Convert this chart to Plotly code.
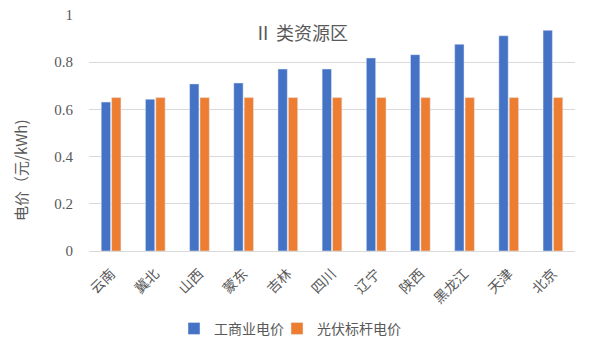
import plotly.graph_objects as go

provinces = ["云南", "冀北", "山西", "蒙东", "吉林", "四川", "辽宁", "陕西", "黑龙江", "天津", "北京"]
commercial_price = [0.631, 0.643, 0.708, 0.712, 0.771, 0.771, 0.818, 0.832, 0.876, 0.912, 0.935]
pv_benchmark_price = [0.65] * 11
y_ticks = [0, 0.2, 0.4, 0.6, 0.8, 1]
y_tick_text = ["0", "0.2", "0.4", "0.6", "0.8", "1"]

grey = "#595959"
fig = go.Figure()
fig.add_trace(go.Bar(x=provinces, y=commercial_price, name="工商业电价", marker_color="#4472C4",
                     legend="legend"))
fig.add_trace(go.Bar(x=provinces, y=pv_benchmark_price, name="光伏标杆电价", marker_color="#ED7D31",
                     legend="legend2"))

legend_common = dict(orientation="h", xanchor="left", y=-0.33, yanchor="middle",
                     font=dict(size=14, color=grey), itemwidth=30, bgcolor="rgba(0,0,0,0)")
fig.update_layout(
    width=600, height=344,
    margin=dict(l=89, r=25, t=15, b=93, autoexpand=False),
    paper_bgcolor="white", plot_bgcolor="white",
    barmode="group", bargap=0.53, bargroupgap=0.1,
    font=dict(family="Noto Sans CJK SC", color=grey),
    showlegend=True,
    legend=dict(x=(174 - 89) / 486, **legend_common),
    legend2=dict(x=(277 - 89) / 486, **legend_common),
    annotations=[
        dict(text="Ⅱ 类资源区", x=(301 - 89) / 486, xref="paper", y=(251 - 32) / 236, yref="paper",
             xanchor="center", yanchor="middle", showarrow=False, font=dict(size=18, color=grey)),
        dict(text="电价（元/kWh)", x=(20 - 89) / 486, xref="paper", y=(251 - 170) / 236, yref="paper",
             xanchor="center", yanchor="middle", textangle=-90, showarrow=False,
             font=dict(size=15, color=grey)),
    ],
)
fig.update_yaxes(range=[0, 1], tickvals=y_ticks, ticktext=y_tick_text, automargin=False,
                 showgrid=True, gridcolor="#D9D9D9", gridwidth=1, zeroline=False,
                 tickfont=dict(family="Liberation Serif", size=15, color=grey),
                 ticks="", ticklabelstandoff=15)
fig.update_xaxes(tickangle=-45, tickfont=dict(size=14, color=grey), automargin=False,
                 showline=True, linecolor="#D9D9D9", linewidth=1, ticks="", ticklabelstandoff=8)
fig.write_html("out.html")
